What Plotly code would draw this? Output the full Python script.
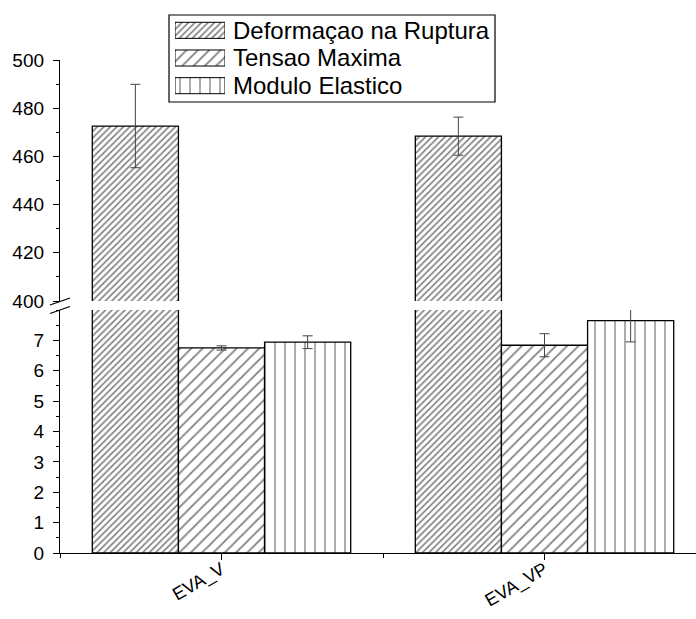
import plotly.graph_objects as go

# Sample groups and measured properties
categories = ["EVA_V", "EVA_VP"]
series_names = ["Deformaçao na Ruptura", "Tensao Maxima", "Modulo Elastico"]

deformacao = [472.6, 468.4]
deformacao_err = [17.3, 7.9]
tensao = [6.75, 6.84]
tensao_err = [0.07, 0.38]
modulo = [6.94, 7.65]
modulo_err = [0.21, 0.70]

lower_ticks = [0, 1, 2, 3, 4, 5, 6, 7]
upper_ticks = [400, 420, 440, 460, 480, 500]

FONT = "Arial, Liberation Sans, sans-serif"
W, H = 696, 619
ML, MB = 60, 66
PW, PH = W - ML, H - MB


def px_x(x):
    return (x - ML) / PW


def px_y(y):
    return (PH - y) / PH


values = [deformacao, tensao, modulo]
errors = [deformacao_err, tensao_err, modulo_err]
patterns = [
    dict(shape="/", size=4.6, solidity=0.35, fgcolor="black", bgcolor="white"),
    dict(shape="/", size=8, solidity=0.22, fgcolor="black", bgcolor="white"),
    dict(shape="|", size=10, solidity=0.13, fgcolor="black", bgcolor="white"),
]

xs = list(range(len(categories)))

fig = go.Figure()
for yax in ["y", "y2"]:
    for name, vals, errs, pat in zip(series_names, values, errors, patterns):
        fig.add_trace(go.Bar(
            x=xs, y=vals, name=name, xaxis="x", yaxis=yax,
            marker=dict(color="white", line=dict(color="black", width=1.3), pattern=pat),
            error_y=dict(type="data", array=errs, visible=True,
                         color="#444444", thickness=1, width=5),
            showlegend=False,
        ))

# Legend swatches: small horizontal patterned bars on their own axes
fig.add_trace(go.Bar(
    x=[1, 1, 1], y=[0, 1, 2], base=0, orientation="h", width=0.58,
    xaxis="x3", yaxis="y3", showlegend=False, hoverinfo="skip",
    marker=dict(color="white", line=dict(color="black", width=1),
                pattern=dict(shape=[p["shape"] for p in patterns],
                             size=[p["size"] for p in patterns],
                             solidity=[p["solidity"] for p in patterns],
                             fgcolor="black", bgcolor="white")),
))

axis_common = dict(
    showline=True, linecolor="black", linewidth=1.3, mirror=False,
    ticks="outside", ticklen=6, tickwidth=1.3, tickcolor="black",
    showgrid=False, zeroline=False, automargin=False,
    tickfont=dict(family=FONT, size=19, color="black"),
)

lower_top = 310
upper_bottom = 301
upper_top = 60
legend_top, legend_bottom = 16.5, 99.5

fig.update_layout(
    width=W, height=H,
    margin=dict(l=ML, r=0, t=0, b=MB, pad=0),
    paper_bgcolor="white", plot_bgcolor="white",
    barmode="group", bargap=0.2, bargroupgap=0,
    font=dict(family=FONT, color="black"),
    xaxis=dict(
        **{**axis_common, "tickfont": dict(family=FONT, size=18, color="black")},
        anchor="y", domain=[0, 1],
        range=[-0.5, -0.5 + PW / 323.0],
        tickmode="array", tickvals=xs, ticktext=categories, tickangle=-30,
        ticklabelstandoff=-8,
        minor=dict(ticks="outside", ticklen=4, tickwidth=1.3, tickcolor="black",
                   tickmode="array", tickvals=[-0.5, 0.5, 1.5]),
    ),
    yaxis=dict(
        **axis_common, anchor="x", domain=[0, px_y(lower_top)],
        range=[0, 8], tickmode="array", tickvals=lower_ticks,
        minor=dict(ticks="outside", ticklen=3, tickwidth=1.3, tickcolor="black", dtick=0.5, tick0=0),
        ticklabelstandoff=5,
    ),
    yaxis2=dict(
        **axis_common, anchor="x", domain=[px_y(upper_bottom), px_y(upper_top)],
        range=[400, 500], tickmode="array", tickvals=upper_ticks,
        minor=dict(ticks="outside", ticklen=3, tickwidth=1.3, tickcolor="black", dtick=10, tick0=400),
        ticklabelstandoff=5,
    ),
    xaxis3=dict(domain=[px_x(175), px_x(225)], range=[0, 1], anchor="y3",
                visible=False, fixedrange=True, automargin=False),
    yaxis3=dict(domain=[px_y(legend_bottom), px_y(legend_top)], range=[2.5, -0.5],
                anchor="x3", visible=False, fixedrange=True, automargin=False),
)

# Legend frame and labels
fig.add_shape(type="rect", xref="paper", yref="paper",
              x0=px_x(169), x1=px_x(495), y0=px_y(102), y1=px_y(15),
              line=dict(color="black", width=1.2), fillcolor="rgba(0,0,0,0)", layer="below")
row_h = (legend_bottom - legend_top) / 3
for i, name in enumerate(series_names):
    fig.add_annotation(
        xref="paper", yref="paper", x=px_x(231), y=px_y(legend_top + row_h * (i + 0.5)),
        text=name, showarrow=False, xanchor="left", yanchor="middle",
        font=dict(family=FONT, size=24, color="black"),
    )

# Axis break marks
for y0, y1 in [(305, 298), (313.5, 306.5)]:
    fig.add_shape(type="line", xref="paper", yref="paper",
                  x0=px_x(50), x1=px_x(70), y0=px_y(y0), y1=px_y(y1),
                  line=dict(color="black", width=1.3))

fig.write_html("out.html")
